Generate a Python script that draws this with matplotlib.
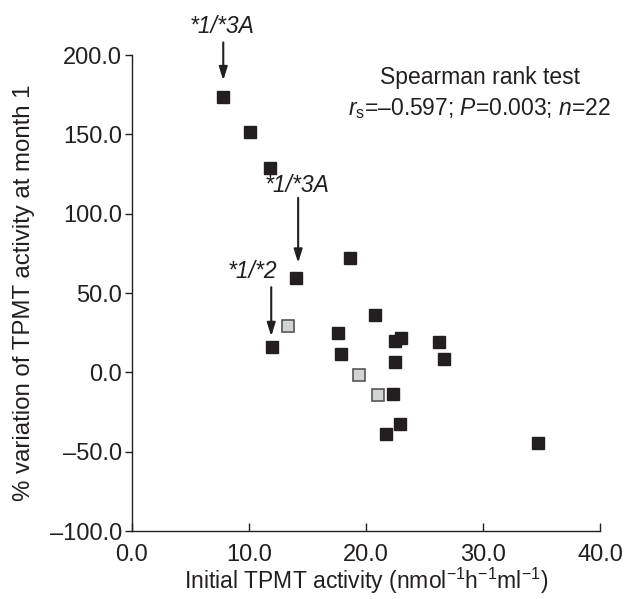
import matplotlib
matplotlib.use("Agg")
import matplotlib.pyplot as plt
from matplotlib.ticker import FuncFormatter

plt.rcParams['font.family'] = ['Liberation Sans', 'DejaVu Sans']
plt.rcParams['mathtext.fontset'] = 'custom'
plt.rcParams['mathtext.rm'] = 'Liberation Sans'
plt.rcParams['mathtext.it'] = 'Liberation Sans:italic'

# homozygous wild-type patients (black squares)
wt_x = [7.8, 10.1, 11.8, 18.6, 14.0, 20.8, 17.6, 23.0, 22.5, 26.2, 12.0,
        17.9, 26.7, 22.5, 22.3, 22.9, 21.7, 34.7]
wt_y = [173.4, 151.3, 129.0, 72.2, 59.3, 36.2, 24.8, 21.7, 19.8, 19.1, 16.0,
        11.6, 8.4, 6.5, -13.7, -32.6, -39.0, -44.6]

# other patients (grey squares)
grey_x = [13.3, 19.4, 21.0]
grey_y = [29.0, -1.5, -14.5]

x_ticks = [0, 10, 20, 30, 40]
y_ticks = [-100, -50, 0, 50, 100, 150, 200]

INK = '#231f20'
FS = 16.5

fig = plt.figure(figsize=(6.27, 5.99), dpi=100)
ax = fig.add_axes([0.2105, 0.1135, 0.7465, 0.7945])

ax.plot(wt_x, wt_y, 's', color=INK, markersize=8.3, linestyle='none')
ax.plot(grey_x, grey_y, 's', markerfacecolor='#d2d3d5', markeredgecolor='#555555',
        markeredgewidth=1.2, markersize=8.3, linestyle='none')

arrow = dict(arrowstyle='-|>,head_width=0.25,head_length=0.8', color=INK, lw=1.5,
             shrinkA=0, shrinkB=0)
# genotype annotations
ax.annotate('', xy=(7.8, 184), xytext=(7.8, 208), arrowprops=arrow)
ax.text(7.7, 218, '*1/*3A', ha='center', va='center', style='italic', fontsize=FS, color=INK)
ax.annotate('', xy=(14.2, 69), xytext=(14.2, 110), arrowprops=arrow)
ax.text(14.1, 118, '*1/*3A', ha='center', va='center', style='italic', fontsize=FS, color=INK)
ax.annotate('', xy=(11.9, 22.7), xytext=(11.9, 53.7), arrowprops=arrow)
ax.text(10.3, 63.8, '*1/*2', ha='center', va='center', style='italic', fontsize=FS, color=INK)

ax.text(29.7, 186, 'Spearman rank test', ha='center', va='center', fontsize=FS, color=INK)
ax.text(29.7, 166.5, r'$r_\mathrm{s}$=–0.597; $P$=0.003; $n$=22', ha='center', va='center',
        fontsize=FS, color=INK)

ax.set_xlim(0, 40)
ax.set_ylim(-100, 200)
ax.set_xticks(x_ticks)
ax.set_yticks(y_ticks)
fmt = FuncFormatter(lambda v, p: f'{v:.1f}'.replace('-', '–'))
ax.xaxis.set_major_formatter(fmt)
ax.yaxis.set_major_formatter(fmt)

for s in ['top', 'right']:
    ax.spines[s].set_visible(False)
for s in ['left', 'bottom']:
    ax.spines[s].set_linewidth(1.0)
    ax.spines[s].set_color(INK)

ax.tick_params(axis='x', direction='in', length=6, width=1, labelsize=17, pad=9, colors=INK)
ax.tick_params(axis='y', direction='out', length=5, width=1, labelsize=17, pad=2, colors=INK)

ax.set_xlabel(r'Initial TPMT activity (nmol$^{-1}$h$^{-1}$ml$^{-1}$)', fontsize=FS, color=INK)
ax.set_ylabel('% variation of TPMT activity at month 1', fontsize=17.3, color=INK)
ax.xaxis.set_label_coords(0.5, -0.074)
ax.yaxis.set_label_coords(-0.208, 0.5)

fig.savefig('out.png', dpi=100)
